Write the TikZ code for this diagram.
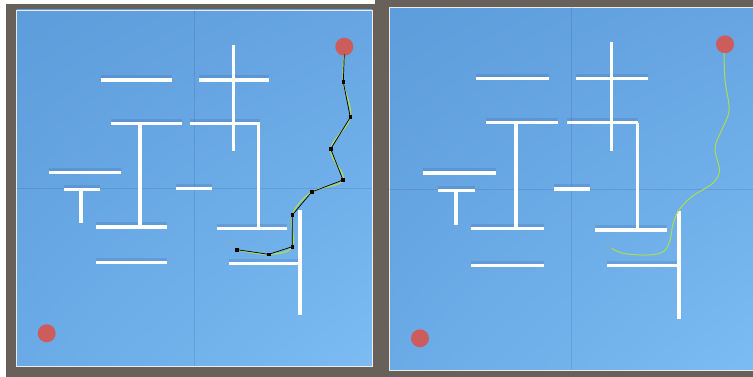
\documentclass[tikz,border=0pt]{standalone}
\usepackage{tikz}
\usetikzlibrary{shadings}

\definecolor{frame}{RGB}{104,97,90}
\definecolor{floorTL}{RGB}{94,157,219}
\definecolor{floorTR}{RGB}{102,165,226}
\definecolor{floorBL}{RGB}{106,170,230}
\definecolor{floorBR}{RGB}{124,188,243}
\definecolor{goal}{RGB}{205,92,92}
\definecolor{trail}{RGB}{170,222,80}

\tikzset{
  wall/.style={white, line width=3.5pt},
  wallshadow/.style={black!70!blue, opacity=0.09, line width=3pt, yshift=3pt},
  gridline/.style={black!60!blue, opacity=0.10, line width=0.6pt},
  waypoint/.style={fill=black},
}

\begin{document}
\begin{tikzpicture}[x=1pt, y=-1pt]
    \useasboundingbox (0,0) rectangle (753,377);
    % FONS I MARCS
    \fill[white] (0,0) rectangle (753,377);
    \fill[frame] (6,4) rectangle (389,377);
    \fill[frame] (375,0) rectangle (753,377);

    % PANELL ESQUERRE (camí amb punts)
    \shade[upper left=floorTL, upper right=floorTR, lower left=floorBL, lower right=floorBR]
        (16.7,10) rectangle (372,366);
    \draw[white!85!gray, line width=0.8pt] (16.7,10) rectangle (372,366);
    \draw[gridline] (194,10) -- (194,366);
    \draw[gridline] (16.7,188) -- (372,188);

    % Parets
    \foreach \xa/\ya/\xb/\yb in {100.7/80/171.7/80, 199/80/269/80, 111/123.3/181.7/123.3,
        190/123.3/260/123.3, 49.3/172.3/120.7/172.3, 64/189.3/99.7/189.3, 176/188.3/212/188.3,
        96/227/167.3/227, 217.3/228.7/287.3/228.7, 228.7/263.3/297.7/263.3, 96/262.7/167.3/262.7} {
        \draw[wallshadow] (\xa,\ya) -- (\xb,\yb);
    }
    \foreach \xa/\ya/\xb/\yb in {100.7/80/171.7/80, 199/80/269/80, 233.3/45/233.3/151,
        111/123.3/181.7/123.3, 190/123.3/260/123.3, 258.3/123.3/258.3/228.3, 140/123.3/140/227,
        49.3/172.3/120.7/172.3, 64/189.3/99.7/189.3, 81/189.3/81/223.3, 176/188.3/212/188.3,
        96/227/167.3/227, 217.3/228.7/287.3/228.7, 300/210/300/315.3,
        228.7/263.3/297.7/263.3, 96/262.7/167.3/262.7} {
        \draw[wall] (\xa,\ya) -- (\xb,\yb);
    }

    % Objectiu i inici
    \fill[goal] (344.3,46.7) circle (9pt);
    \fill[goal] (46.7,333.3) circle (9pt);

    % Punts del camí
    \coordinate (L0) at (344.3,54);
    \foreach \i/\p in {1/{343.3,82.3}, 2/{350.3,117.3}, 3/{330.7,149}, 4/{343,180}, 5/{311.7,192},
        6/{292.3,215}, 7/{292.3,246.7}, 8/{268.7,254.3}, 9/{237,249.7}} {
        \coordinate (L\i) at (\p);
    }
    \draw[trail, line width=1.3pt] plot[smooth, tension=0.6] coordinates
        {(L0) (L1) (L2) (L3) (L4) (L5) (L6) (L7) (L8) (L9)};
    \draw[black, line width=0.7pt] (L0) -- (L1) -- (L2) -- (L3) -- (L4) -- (L5) -- (L6) -- (L7) -- (L8) -- (L9);
    \foreach \i in {1,...,9} {
        \fill[waypoint] (L\i) +(-1.8,-1.8) rectangle +(1.8,1.8);
    }
    % Agent
    \draw[gray!70, line width=0.6pt] (227.5,241) -- (231,242.5) (228.5,244) -- (233,244.5);

    % PANELL DRET (camí suavitzat)
    \shade[upper left=floorTL, upper right=floorTR, lower left=floorBL, lower right=floorBR]
        (389,7.3) rectangle (753,370);
    \draw[white!85!gray, line width=0.8pt] (389,7.3) rectangle (755,370);
    \draw[gridline] (571.7,7.3) -- (571.7,370);
    \draw[gridline] (389,189) -- (753,189);

    % Parets
    \foreach \xa/\ya/\xb/\yb in {475.7/78.7/548.7/78.7, 576/78.7/648.3/78.7, 486/122.7/558.3/122.7,
        567/122.7/638.3/122.7, 423/173/496/173, 438.3/190.3/474.7/190.3, 553.7/189/589.7/189,
        471/228.7/544.3/228.7, 595/230/667.3/230, 606.7/265.7/679/265.7, 471/265.3/544.3/265.3} {
        \draw[wallshadow] (\xa,\ya) -- (\xb,\yb);
    }
    \foreach \xa/\ya/\xb/\yb in {475.7/78.7/548.7/78.7, 576/78.7/648.3/78.7, 611.3/42.3/611.3/151,
        486/122.7/558.3/122.7, 567/122.7/638.3/122.7, 637.3/122.7/637.3/230, 516/122.7/516/228.3,
        423/173/496/173, 438.3/190.3/474.7/190.3, 456/190.3/456/225.3, 553.7/189/589.7/189,
        471/228.7/544.3/228.7, 595/230/667.3/230, 679/210.7/679/319.3,
        606.7/265.7/679/265.7, 471/265.3/544.3/265.3} {
        \draw[wall] (\xa,\ya) -- (\xb,\yb);
    }

    % Objectiu i inici
    \fill[goal] (725,44.3) circle (9pt);
    \fill[goal] (420,338.3) circle (9pt);

    % Trajectòria
    \draw[trail, line width=1pt] plot[smooth, tension=0.6] coordinates
        {(724,53) (725,80) (729,110) (721.7,130) (715,148) (719.5,170) (715,181) (706,188)
         (691.7,196.7) (679,210) (673,224) (670,240) (663.3,251.7) (646.7,255) (623.3,253.3) (611.7,248.3)};
    % Agent
    \draw[gray!70, line width=0.6pt] (606,243) -- (609.5,244.5) (607,246) -- (611,246.5);
\end{tikzpicture}
\end{document}
